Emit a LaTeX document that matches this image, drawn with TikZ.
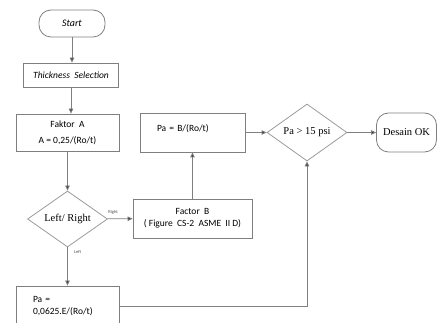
\documentclass[tikz,border=0pt]{standalone}
\usepackage{fontspec}
\setmainfont{Carlito}
\newfontfamily\timesfont{Liberation Serif}
\usetikzlibrary{shapes.geometric, arrows.meta}

\definecolor{boxgray}{HTML}{7F7F7F}
\definecolor{diagray}{HTML}{9A9A9A}
\definecolor{tipgray}{HTML}{3A3A3A}

\tikzset{
    box/.style={draw=boxgray, line width=0.8pt, rectangle, inner sep=2pt, font=\fontsize{9.5}{11}\selectfont},
    term/.style={draw=boxgray, line width=0.8pt, rounded corners=12pt, font=\fontsize{10.5}{12}\selectfont},
    decide/.style={draw=diagray, line width=0.8pt, diamond, inner sep=0pt, aspect=1.43, font=\timesfont\fontsize{10.5}{12}\selectfont},
    flow/.style={draw=boxgray, line width=0.8pt, -{Triangle[length=5pt,width=4.5pt,fill=tipgray]}},
    tag/.style={font=\fontsize{4.5}{5}\selectfont, text=black!70}
}

\begin{document}
\begin{tikzpicture}[x=1pt, y=-1pt]
        \clip (0,0) rectangle (437,323);

        % Start and first steps
        \node[term, minimum width=66pt, minimum height=27pt, font=\itshape\fontsize{10}{12}\selectfont] (start) at (72,23.5) {Start};
        \node[box, minimum width=95pt, minimum height=24pt, font=\itshape\fontsize{9.5}{11}\selectfont] (thick) at (71,75) {Thickness \ Selection};
        \node[box, minimum width=103pt, minimum height=37pt, align=center] (faktorA) at (67.5,132.5) {Faktor \ A\\[5pt] A = 0,25/(Ro/t)};

        % Left / right decision
        \node[decide, minimum width=80pt, minimum height=56pt] (lr) at (67.5,219) {Left/ Right};
        \node[box, minimum width=119pt, minimum height=39pt, align=center] (factorB) at (192.5,218.5) {Factor \ B\\[1pt] ( Figure \ CS-2 \ ASME \ II D)};
        \node[box, minimum width=103pt, minimum height=40pt, text width=69pt, inner xsep=12pt, align=left] (paE) at (67.5,306) {Pa =\\[1pt] 0,0625.E/(Ro/t)};

        % Allowable pressure check
        \node[box, minimum width=105pt, minimum height=39pt, text width=71pt, inner xsep=17pt, text depth=9pt, align=left] (paB) at (192.5,132.5) {Pa = B/(Ro/t)};
        \node[decide, minimum width=80pt, minimum height=57pt] (check) at (307,132.5) {Pa \textgreater{} 15 psi};
        \node[term, minimum width=60pt, minimum height=39pt, font=\timesfont\fontsize{10.5}{12}\selectfont] (ok) at (406.5,132.5) {Desain OK};

        % Connectors
        \draw[flow] (start) -- (start |- thick.north);
        \draw[flow] (thick) -- (thick |- faktorA.north);
        \draw[flow] (faktorA) -- (lr);
        \draw[flow] (lr) -- node[tag, pos=0.22, above=1pt] {Right} (factorB);
        \draw[flow] (lr) -- node[tag, pos=0.12, right=3pt] {Left} (paE);
        \draw[flow] (factorB) -- (paB);
        \draw[flow] (paB) -- (check);
        \draw[flow] (check) -- (ok);
        \draw[flow] (paE) -| (check);
    \end{tikzpicture}
\end{document}
